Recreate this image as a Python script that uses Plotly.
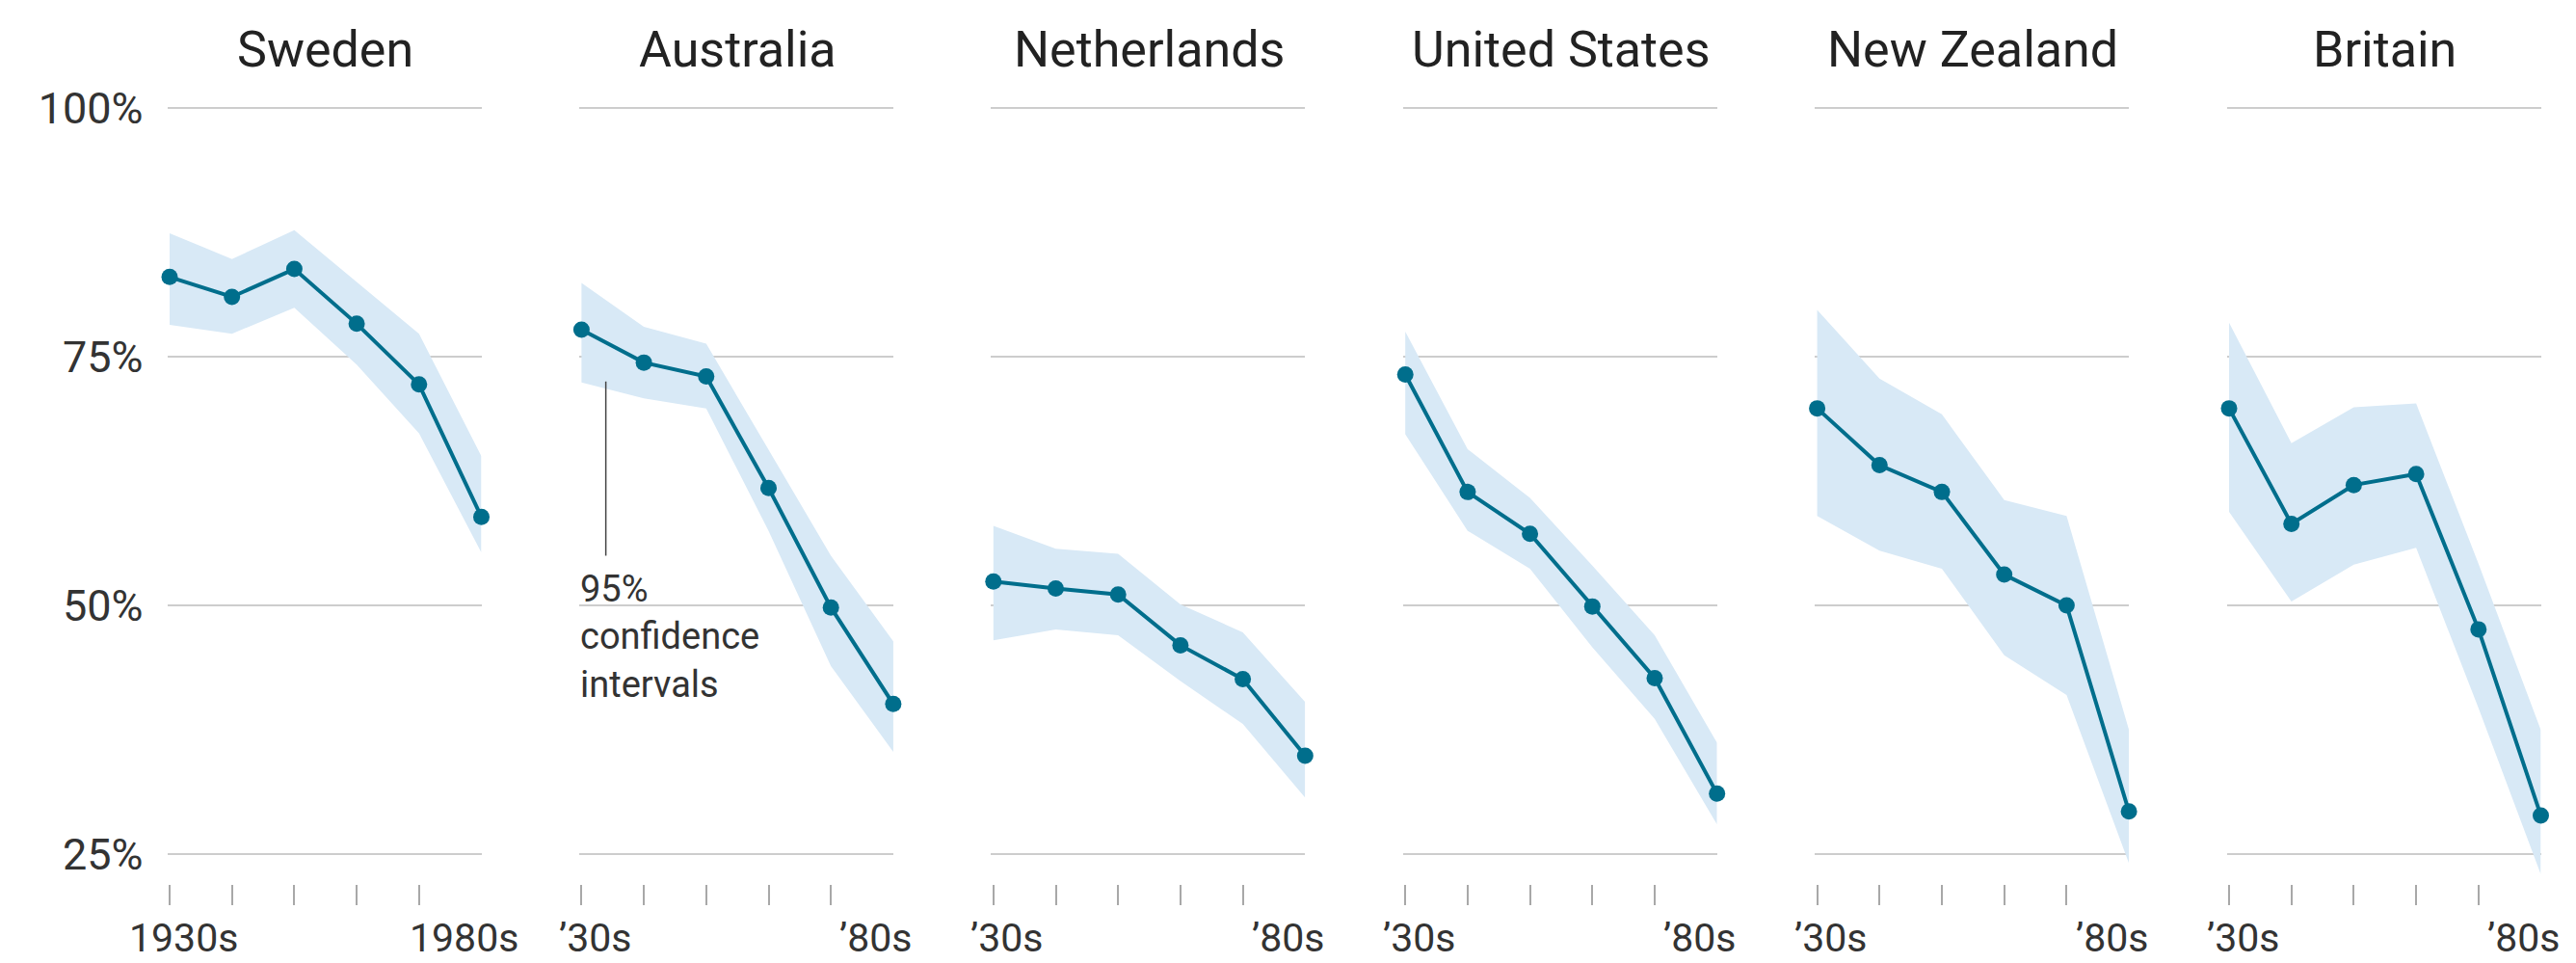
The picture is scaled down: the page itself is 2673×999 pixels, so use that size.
import plotly.graph_objects as go

# ---------------- data ----------------
decades = [1930, 1940, 1950, 1960, 1970, 1980]
countries = ["Sweden", "Australia", "Netherlands", "United States", "New Zealand", "Britain"]
first_labels = ["1930s", "’30s", "’30s", "’30s", "’30s", "’30s"]
last_labels = ["1980s", "’80s", "’80s", "’80s", "’80s", "’80s"]

sweden_mid = [83.0, 81.0, 83.8, 78.3, 72.2, 58.9]
sweden_upper = [87.4, 84.8, 87.7, 82.5, 77.3, 65.0]
sweden_lower = [78.2, 77.3, 79.9, 74.2, 67.3, 55.3]

australia_mid = [77.7, 74.4, 73.0, 61.8, 49.8, 40.1]
australia_upper = [82.4, 78.0, 76.3, 65.7, 55.0, 46.4]
australia_lower = [72.4, 70.8, 69.8, 57.5, 43.9, 35.3]

netherlands_mid = [52.4, 51.7, 51.1, 46.0, 42.6, 34.9]
netherlands_upper = [58.0, 55.7, 55.2, 50.1, 47.3, 40.3]
netherlands_lower = [46.5, 47.6, 47.0, 42.4, 38.1, 30.7]

us_mid = [73.2, 61.4, 57.2, 49.9, 42.7, 31.1]
us_upper = [77.5, 65.7, 60.8, 54.0, 47.0, 36.2]
us_lower = [67.2, 57.5, 53.7, 45.8, 38.6, 28.0]

nz_mid = [69.8, 64.1, 61.4, 53.1, 50.0, 29.3]
nz_upper = [79.7, 72.8, 69.2, 60.6, 59.0, 37.5]
nz_lower = [59.0, 55.5, 53.7, 45.0, 41.0, 24.1]

britain_mid = [69.8, 58.2, 62.1, 63.2, 47.6, 28.9]
britain_upper = [78.4, 66.3, 69.9, 70.3, 54.2, 37.5]
britain_lower = [59.4, 50.4, 54.1, 55.8, 39.7, 23.0]

mids = [sweden_mid, australia_mid, netherlands_mid, us_mid, nz_mid, britain_mid]
uppers = [sweden_upper, australia_upper, netherlands_upper, us_upper, nz_upper, britain_upper]
lowers = [sweden_lower, australia_lower, netherlands_lower, us_lower, nz_lower, britain_lower]

y_ticks = [25, 50, 75, 100]
y_tick_labels = ["25%", "50%", "75%", "100%"]

ci_label = "95%<br>confidence<br>intervals"

# ---------------- styling / geometry ----------------
W, H = 2673, 999
FONT = "Roboto, 'Liberation Sans', Arial, sans-serif"
LINE_COLOR = "#006e8c"
BAND_COLOR = "#d8e9f6"
GRID_COLOR = "#cdcdcd"
TEXT_COLOR = "#333333"

PANEL_X0 = 176.0
PANEL_STEP = 427.4
PANEL_W = 323.5
GRID_PAD = 2.5
PX_PER_YEAR = PANEL_W / (decades[-1] - decades[0])

Y100, Y25 = 107.3, 885.7
PPU = (Y25 - Y100) / 75.0
Y_MIN, Y_MAX = 19.9, 102.0
top_px = Y100 - (Y_MAX - 100) * PPU
bot_px = Y25 + (25 - Y_MIN) * PPU
y_domain = [(H - bot_px) / H, (H - top_px) / H]

fig = go.Figure()
layout = dict(
    width=W, height=H, autosize=False,
    margin=dict(l=0, r=0, t=0, b=0),
    paper_bgcolor="white", plot_bgcolor="white",
    showlegend=False,
    font=dict(family=FONT, color=TEXT_COLOR),
)
annotations = []
shapes = []

for i, name in enumerate(countries):
    n = i + 1
    sx = "" if n == 1 else str(n)
    xa, ya = "x" + sx, "y" + sx
    x0 = PANEL_X0 + PANEL_STEP * i

    fig.add_trace(go.Scatter(
        x=decades + decades[::-1],
        y=uppers[i] + lowers[i][::-1],
        fill="toself", fillcolor=BAND_COLOR,
        mode="lines", line=dict(width=0, color=BAND_COLOR),
        hoverinfo="skip", xaxis=xa, yaxis=ya,
    ))
    fig.add_trace(go.Scatter(
        x=decades, y=mids[i], mode="lines+markers",
        line=dict(color=LINE_COLOR, width=4),
        marker=dict(color=LINE_COLOR, size=17),
        cliponaxis=False, xaxis=xa, yaxis=ya, name=name,
    ))

    layout["xaxis" + sx] = dict(
        domain=[(x0 - GRID_PAD) / W, (x0 + PANEL_W) / W],
        range=[decades[0] - GRID_PAD / PX_PER_YEAR, decades[-1]],
        anchor=ya, showgrid=False, zeroline=False, showline=False,
        tickvals=decades, ticks="inside", ticklen=21, tickwidth=2,
        tickcolor="#a8a8a8", showticklabels=False, fixedrange=True,
    )
    layout["yaxis" + sx] = dict(
        domain=y_domain, range=[Y_MIN, Y_MAX], anchor=xa,
        tickvals=y_ticks, ticktext=y_tick_labels,
        showgrid=True, gridcolor=GRID_COLOR, gridwidth=2,
        zeroline=False, showline=False, ticks="",
        showticklabels=(n == 1), ticklabelstandoff=24,
        tickfont=dict(size=45, color=TEXT_COLOR, family=FONT),
        fixedrange=True,
    )

    annotations.append(dict(
        text=name, xref="paper", yref="paper",
        x=(x0 + PANEL_W / 2) / W, y=(H - 47) / H,
        xanchor="center", yanchor="middle", showarrow=False,
        font=dict(size=52, color="#222222", family=FONT),
    ))
    annotations.append(dict(
        text=first_labels[i], xref=xa, yref="paper",
        x=decades[0], xshift=14, y=0,
        xanchor="center", yanchor="bottom", showarrow=False,
        font=dict(size=41, color=TEXT_COLOR, family=FONT),
    ))
    annotations.append(dict(
        text=last_labels[i], xref=xa, yref="paper",
        x=decades[-1], xshift=-18, y=0,
        xanchor="center", yanchor="bottom", showarrow=False,
        font=dict(size=41, color=TEXT_COLOR, family=FONT),
    ))

# confidence interval callout (Australia panel)
annotations.append(dict(
    text=ci_label, xref="paper", yref="paper",
    x=600 / W, y=(H - 659) / H, xanchor="left", yanchor="middle",
    align="left", showarrow=False,
    font=dict(size=38, color=TEXT_COLOR, family=FONT),
))
shapes.append(dict(
    type="line", xref="x2", yref="y2",
    x0=1933.9, x1=1933.9, y0=72.5, y1=55.0,
    line=dict(color="#444444", width=1.5),
))

layout["annotations"] = annotations
layout["shapes"] = shapes
fig.update_layout(**layout)
fig.write_html("out.html")
